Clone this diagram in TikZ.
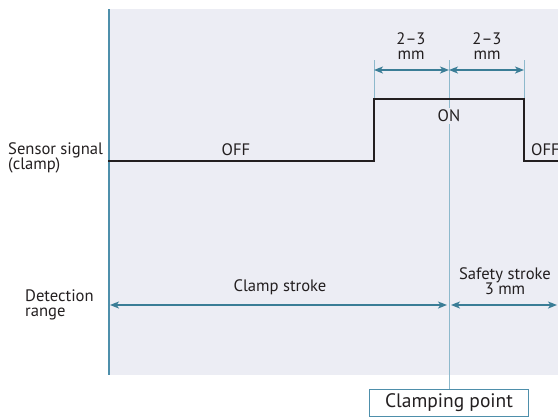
\documentclass[tikz,border=0pt]{standalone}
\usepackage{fontspec}
\setmainfont{PT Sans}
\usetikzlibrary{arrows.meta}
\definecolor{panelbg}{HTML}{ECEDF4}
\definecolor{teal}{HTML}{3A7D96}
\definecolor{guideblue}{HTML}{8DB9CC}
\definecolor{axisblue}{HTML}{4E8FAB}
\definecolor{ink}{HTML}{231F20}
\tikzset{
  lbl/.style={font=\fontsize{16.6}{15.5}\selectfont, text=ink, inner sep=0pt},
  sidelbl/.style={lbl, align=left, anchor=west},
  signal/.style={draw=ink, line width=2.6pt},
  guide/.style={draw=guideblue, line width=1pt},
  dim/.style={draw=teal, line width=1.4pt, {Stealth[length=9pt,width=7pt,inset=2.5pt]}-{Stealth[length=9pt,width=7pt,inset=2.5pt]}},
  pointbox/.style={draw=axisblue, line width=1pt, fill=white, minimum width=159pt, minimum height=27pt, inner sep=0pt, font=\fontsize{19.5}{20}\selectfont, text=ink}
}
\begin{document}
\begin{tikzpicture}[x=1pt,y=-1pt]
\useasboundingbox (0,0) rectangle (558,416);
\begin{scope}
\clip (0,0) rectangle (558,416);
% chart panel and its left axis
\fill[panelbg] (108,9) rectangle (558,375);
\draw[axisblue, line width=2pt] (108.5,9) -- (108.5,375);

% key positions along the stroke
\coordinate (sL) at (108,161);
\coordinate (up0) at (374,161);
\coordinate (up1) at (374,99);
\coordinate (dn1) at (524,99);
\coordinate (dn0) at (524,161);
\coordinate (sR) at (562,161);
\coordinate (gA) at (374,60);
\coordinate (gC) at (449,60);
\coordinate (gB) at (524,60);

% clamping point marker
\node[pointbox] (cp) at (449,402.5) {Clamping point};
\draw[guide] (gA) -- (up1);
\draw[guide] (gB) -- (dn1);
\draw[guide] (gC) -- (cp.north);

% sensor signal trace
\draw[signal] (sL) -- (up0) -- (up1) -- (dn1) -- (dn0) -- (sR);
\node[lbl, fill=panelbg, inner sep=1.5pt] (on) at (449,116) {ON};
\node[lbl] (off1) at (236,150) {OFF};
\node[lbl, anchor=west] (off2) at (531,150) {OFF};

% 2-3 mm switching windows
\coordinate (a1) at (374,70);
\coordinate (a2) at (449,70);
\coordinate (a3) at (524,70);
\draw[dim] (a1) -- (a2);
\draw[dim] (a2) -- (a3);
\node[lbl, align=center] (w1) at (411,46) {2–3\\mm};
\node[lbl, align=center] (w2) at (487,46) {2–3\\mm};

% detection range strokes
\coordinate (c0) at (110,305);
\coordinate (c1) at (447,305);
\coordinate (s0) at (451,305);
\coordinate (s1) at (557,305);
\draw[dim] (c0) -- (c1);
\draw[dim] (s0) -- (s1);
\node[lbl] (cs) at (280,287) {Clamp stroke};
\node[lbl, align=center] (ss) at (505,281) {Safety stroke\\3 mm};

% row labels
\node[sidelbl] (sig) at (8,158) {Sensor signal\\(clamp)};
\node[sidelbl] (det) at (25,305) {Detection\\range};
\end{scope}
\end{tikzpicture}
\end{document}
